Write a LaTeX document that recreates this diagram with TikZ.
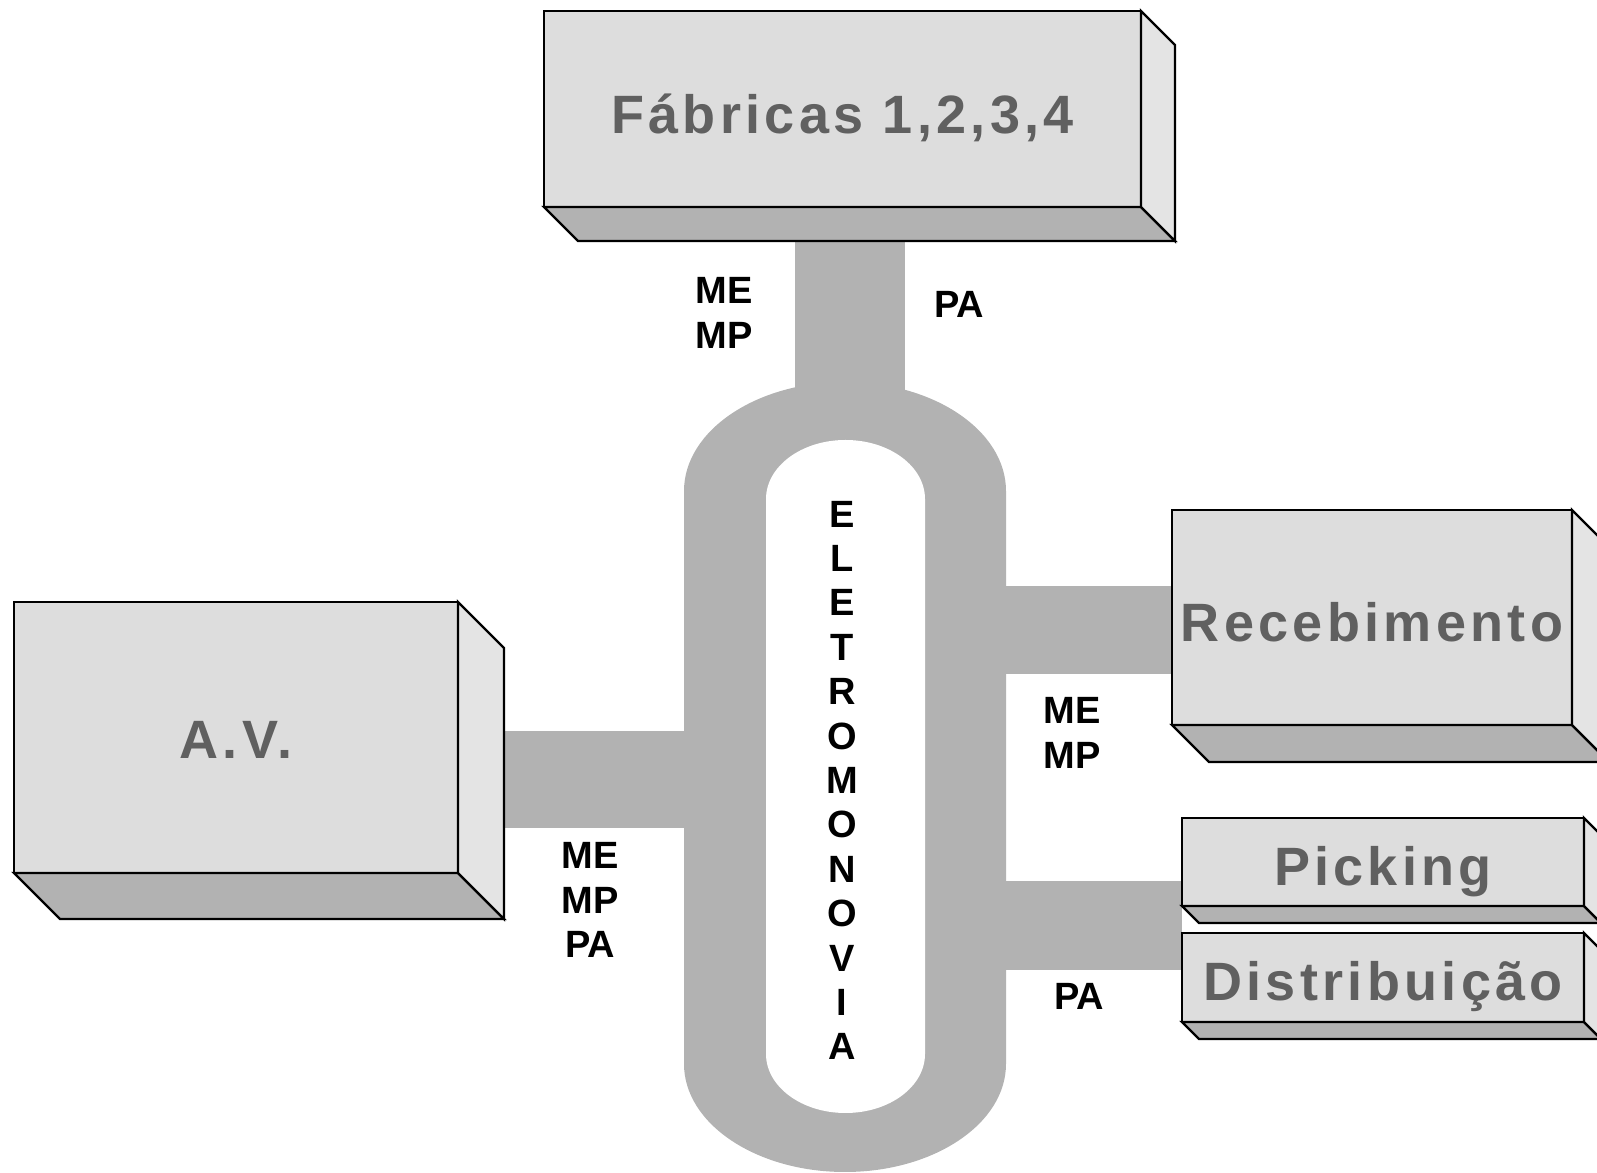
\documentclass[tikz,border=0pt]{standalone}
\usepackage{fontspec}
\setmainfont{Liberation Sans}
\newfontfamily\boxfont{Liberation Sans}[LetterSpace=8]
\usepackage{tikz}
\definecolor{frontgray}{HTML}{DDDDDD}
\definecolor{sidegray}{HTML}{E4E4E4}
\definecolor{darkface}{HTML}{B2B2B2}
\definecolor{railgray}{HTML}{B2B2B2}
\definecolor{txtgray}{HTML}{606060}

% bottom and side faces of a box node
\newcommand{\boxdepth}[2]{%
  \filldraw[fill=darkface] (#1.south west) -- (#1.south east) -- ++(#2,-#2)
      -- ([shift={(#2,-#2)}]#1.south west) -- cycle;
  \filldraw[fill=sidegray] (#1.north east) -- ++(#2,-#2)
      -- ([shift={(#2,-#2)}]#1.south east) -- (#1.south east) -- cycle;
}

\begin{document}
\begin{tikzpicture}[x=0.5pt, y=0.5pt, line width=1.2pt, line join=miter,
    frontbox/.style={draw, fill=frontgray, inner sep=0pt, outer sep=0pt,
      text height=19.5pt, text depth=0pt, text=txtgray,
      font=\boxfont\bfseries\fontsize{27pt}{32pt}\selectfont},
    boxtxt/.style={text=txtgray, inner sep=0pt, text height=19.5pt, text depth=0pt,
      font=\boxfont\bfseries\fontsize{27pt}{32pt}\selectfont},
    track/.style={fill=railgray},
    lbl/.style={align=center, inner sep=0pt,
      font=\bfseries\fontsize{19pt}{22.2pt}\selectfont}]
  \useasboundingbox (0,0) rectangle (1597,1173);
  \clip (0,0) rectangle (1597,1173);

  % the rail loop and its arms
  \fill[track] (684,682) arc[start angle=180, end angle=0, x radius=161, y radius=109]
     -- (1006,109) arc[start angle=0, end angle=-180, x radius=161, y radius=108] -- cycle;
  \fill[track] (795,750) rectangle (905,940);
  \fill[track] (490,345) rectangle (700,442);
  \fill[track] (990,499) rectangle (1180,587);
  \fill[track] (990,203) rectangle (1182,292);
  \fill[white] (766,674) arc[start angle=180, end angle=0, x radius=79.5, y radius=59]
     -- (925,119) arc[start angle=0, end angle=-180, x radius=79.5, y radius=59] -- cycle;

  % boxes
  \node[frontbox, minimum width=298.5pt, minimum height=98pt] (fab) at (842.5,1064) {};
  \boxdepth{fab}{34}
  \node[frontbox, minimum width=222pt, minimum height=135.5pt] (av) at (236,435.5) {};
  \boxdepth{av}{46}
  \node[frontbox, minimum width=200pt, minimum height=107.5pt] (rec) at (1372,555.5) {};
  \boxdepth{rec}{37}
  \node[frontbox, minimum width=201pt, minimum height=44pt] (pick) at (1383,311) {};
  \boxdepth{pick}{17}
  \node[frontbox, minimum width=201pt, minimum height=44.5pt] (dist) at (1383,195.5) {};
  \boxdepth{dist}{17}
  \node[boxtxt] (fabtxt) at ([yshift=-2.5pt]fab.center) {Fábricas 1,2,3,4};
  \node[boxtxt] (avtxt) at ([yshift=-1pt]av.center) {A.V.};
  \node[boxtxt] (rectxt) at ([yshift=-2.5pt]rec.center) {Recebimento};
  \node[boxtxt] (picktxt) at ([yshift=-2pt]pick.center) {Picking};
  \node[boxtxt] (disttxt) at ([yshift=-2pt]dist.center) {Distribuição};

  % labels
  \node[lbl] (rail) at (842,392.5) {E\\L\\E\\T\\R\\O\\M\\O\\N\\O\\V\\I\\A};
  \node[lbl] (fabin) at (724,860) {ME\\MP};
  \node[lbl] (fabout) at (959,869) {PA};
  \node[lbl] (recin) at (1072,440) {ME\\MP};
  \node[lbl] (avin) at (590,273) {ME\\MP\\PA};
  \node[lbl] (distout) at (1079,177) {PA};
\end{tikzpicture}
\end{document}
